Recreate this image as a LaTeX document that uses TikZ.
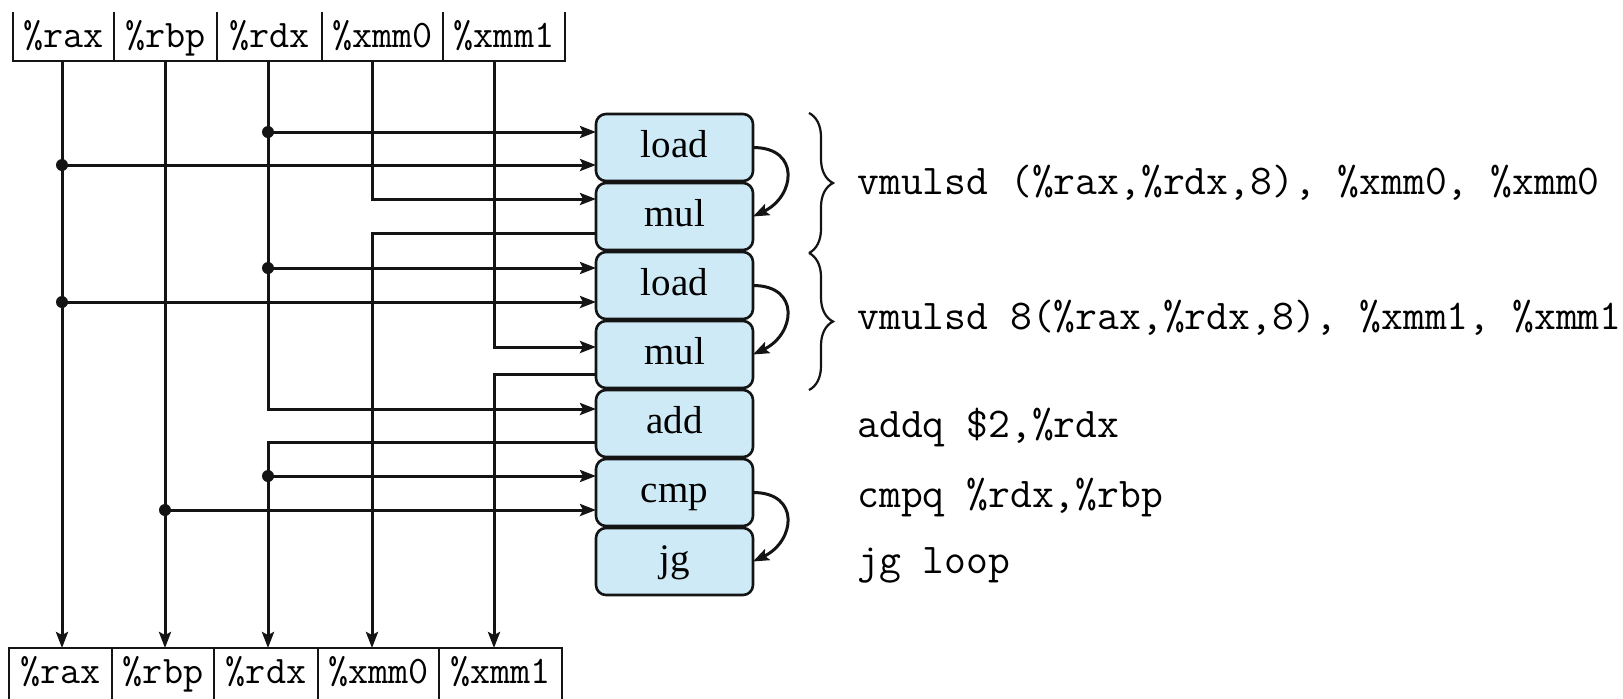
\documentclass[tikz,border=0pt]{standalone}
\usepackage{fontspec}
\setmainfont{Liberation Serif}
\usetikzlibrary{arrows.meta,decorations.pathreplacing,calc}
\definecolor{opfill}{RGB}{205,234,246}
\definecolor{ink}{RGB}{20,20,20}

\begin{document}
\begin{tikzpicture}[x=0.5pt,y=-0.5pt,
  regcell/.style={minimum height=24.5pt, inner sep=0pt, outer sep=0pt,
    text height=12pt, text depth=1.5pt, font=\fontsize{19.5}{22}\selectfont\ttfamily},
  opbox/.style={draw=ink, line width=1.3pt, fill=opfill, rounded corners=5pt,
    minimum width=78.5pt, minimum height=33.5pt, inner sep=0pt, outer sep=0pt,
    text height=11.5pt, text depth=2pt, font=\fontsize{19.5}{22}\selectfont},
  wire/.style={line width=1.5pt, draw=ink},
  arr/.style={wire, -{Stealth[length=8pt,width=6pt,inset=1.5pt]}},
  tap/.style={circle, fill=ink, inner sep=0pt, minimum size=6pt},
  frame/.style={line width=1.2pt, draw=ink},
  asm/.style={anchor=base west, inner sep=0pt, font=\fontsize{21.2}{24}\selectfont\ttfamily},
  brc/.style={draw=ink, line width=1.1pt, decorate, decoration={brace, amplitude=12pt}}
]
\path[use as bounding box, fill=white] (0,0) rectangle (1623,698);

% register file, top (inputs)
\node[regcell, minimum width=50.5pt] (t1) at (63.5,36.5) {\%rax};
\node[regcell, minimum width=51.5pt] (t2) at (165.5,36.5) {\%rbp};
\node[regcell, minimum width=52.5pt] (t3) at (269.5,36.5) {\%rdx};
\node[regcell, minimum width=60.5pt] (t4) at (382.5,36.5) {\%xmm0};
\node[regcell, minimum width=61pt]   (t5) at (504,36.5) {\%xmm1};
\draw[frame] (t1.north west) -- (t1.south west) -- (t5.south east) -- (t5.north east);
\foreach \c in {1,...,4} \draw[frame] (t\c.north east) -- (t\c.south east);

% register file, bottom (outputs)
\node[regcell, minimum width=51.5pt] (b1) at (60.5,672.5) {\%rax};
\node[regcell, minimum width=51pt]   (b2) at (163,672.5) {\%rbp};
\node[regcell, minimum width=52pt]   (b3) at (266,672.5) {\%rdx};
\node[regcell, minimum width=60.5pt] (b4) at (378.5,672.5) {\%xmm0};
\node[regcell, minimum width=61.5pt] (b5) at (500.5,672.5) {\%xmm1};
\draw[frame] ($(b1.south west)+(0,3)$) -- (b1.north west) -- (b5.north east) -- ($(b5.south east)+(0,3)$);
\foreach \c in {1,...,4} \draw[frame] (b\c.north east) -- ($(b\c.south east)+(0,3)$);

% operations
\node[opbox] (l1) at (674.5,147.5) {load};
\node[opbox] (m1) at (674.5,216.5) {mul};
\node[opbox] (l2) at (674.5,285.5) {load};
\node[opbox] (m2) at (674.5,354.5) {mul};
\node[opbox] (ad) at (674.5,423.5) {add};
\node[opbox] (cp) at (674.5,492.5) {cmp};
\node[opbox] (jg) at (674.5,561.5) {jg};

% register buses
\coordinate (raxT) at (62,61);  \coordinate (raxB) at (62,648);
\coordinate (rbpT) at (165,61); \coordinate (rbpB) at (165,648);
\coordinate (rdxT) at (268,61); \coordinate (rdxB) at (268,648);
\coordinate (x0T) at (372,61);  \coordinate (x0B) at (372,648);
\coordinate (x1T) at (494,61);  \coordinate (x1B) at (494,648);

% taps and corners
\coordinate (p1) at (268,132);
\coordinate (p2) at (62,165);
\coordinate (p3) at (372,199);
\coordinate (p4) at (372,233);
\coordinate (p5) at (268,268);
\coordinate (p6) at (62,302);
\coordinate (p7) at (494,347);
\coordinate (p8) at (494,374);
\coordinate (p9) at (268,409);
\coordinate (p10) at (268,442);
\coordinate (p11) at (268,476);
\coordinate (p12) at (165,510);

\draw[arr] (raxT) -- (raxB);
\draw[arr] (rbpT) -- (rbpB);
\draw[arr] (rdxT) -- (p9) -- (p9 -| ad.west);
\draw[arr] (p10 -| ad.west) -- (p10) -- (rdxB);
\draw[arr] (x0T) -- (p3) -- (p3 -| m1.west);
\draw[arr] (p4 -| m1.west) -- (p4) -- (x0B);
\draw[arr] (x1T) -- (p7) -- (p7 -| m2.west);
\draw[arr] (p8 -| m2.west) -- (p8) -- (x1B);

\draw[arr] (p1) -- (p1 -| l1.west);
\draw[arr] (p2) -- (p2 -| l1.west);
\draw[arr] (p5) -- (p5 -| l2.west);
\draw[arr] (p6) -- (p6 -| l2.west);
\draw[arr] (p11) -- (p11 -| cp.west);
\draw[arr] (p12) -- (p12 -| cp.west);

\foreach \p in {p1,p2,p5,p6,p11,p12} \node[tap] at (\p) {};

% dependencies between consecutive operations
\draw[arr] (l1.east) .. controls +(48,0) and +(42,-20) .. (m1.east);
\draw[arr] (l2.east) .. controls +(48,0) and +(42,-20) .. (m2.east);
\draw[arr] (cp.east) .. controls +(48,0) and +(42,-20) .. (jg.east);

% instructions
\coordinate (bA) at (809,113);
\coordinate (bB) at (809,253);
\coordinate (bC) at (809,390);
\draw[brc] (bA) -- (bB);
\draw[brc] (bB) -- (bC);
\node[asm] (i1) at (857,194) {vmulsd (\%rax,\%rdx,8), \%xmm0, \%xmm0};
\node[asm] (i2) at (857,329) {vmulsd 8(\%rax,\%rdx,8), \%xmm1, \%xmm1};
\node[asm] (i3) at (857,437) {addq \$2,\%rdx};
\node[asm] (i4) at (857,507) {cmpq \%rdx,\%rbp};
\node[asm] (i5) at (857,573) {jg loop};
\end{tikzpicture}
\end{document}
